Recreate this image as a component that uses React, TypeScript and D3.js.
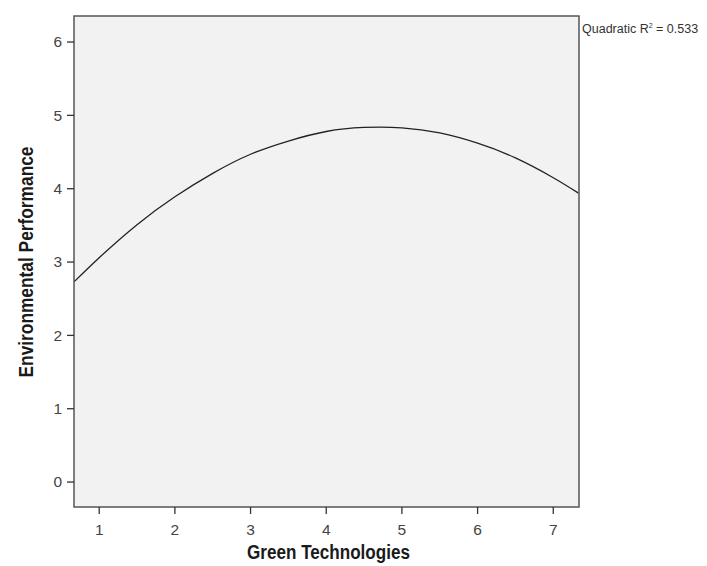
import React from "react";
import * as d3 from "d3";

const xValues = [0.667, 1, 1.5, 2, 2.5, 3, 3.5, 4, 4.5, 5, 5.5, 6, 6.5, 7, 7.333];
const yValues = [2.73, 3.06, 3.51, 3.89, 4.21, 4.47, 4.65, 4.78, 4.835, 4.83, 4.76, 4.62, 4.42, 4.15, 3.94];
const xTicks = [1, 2, 3, 4, 5, 6, 7];
const yTicks = [0, 1, 2, 3, 4, 5, 6];
const xTitle = "Green Technologies";
const yTitle = "Environmental Performance";
const fitLabel = "Quadratic R";
const fitValue = " = 0.533";

export default function App() {
  const W = 707, H = 566;
  const left = 74, right = 579, top = 16, bottom = 507;
  const x = d3.scaleLinear().domain([0.667, 7.34]).range([left, right]);
  const y = d3.scaleLinear().domain([-0.34, 6.355]).range([bottom, top]);
  const line = d3.line<number>()
    .x((_, i) => x(xValues[i]))
    .y((d) => y(d))
    .curve(d3.curveNatural);
  const tickFont = "'Liberation Sans', Arial, sans-serif";
  const titleFont = "'Liberation Sans Narrow', 'Arial Narrow', 'Liberation Sans', sans-serif";
  return (
    <svg width={W} height={H} style={{ position: "absolute", left: 0, top: 0, background: "#fff" }}>
      <defs>
        <clipPath id="plot">
          <rect x={left} y={top} width={right - left} height={bottom - top} />
        </clipPath>
      </defs>
      <rect x={left} y={top} width={right - left} height={bottom - top} fill="#f2f2f2" />
      <path d={line(yValues) || ""} fill="none" stroke="#222" strokeWidth={1.3} clipPath="url(#plot)" />
      <rect x={left} y={top} width={right - left} height={bottom - top} fill="none" stroke="#555" strokeWidth={1.5} />
      {yTicks.map((t) => (
        <g key={"y" + t}>
          <line x1={left - 7} x2={left} y1={y(t)} y2={y(t)} stroke="#333" strokeWidth={1.3} />
          <text x={left - 12} y={y(t)} dy="0.35em" textAnchor="end" fontSize={15.5} fill="#444" fontFamily={tickFont}>{t}</text>
        </g>
      ))}
      {xTicks.map((t) => (
        <g key={"x" + t}>
          <line x1={x(t)} x2={x(t)} y1={bottom} y2={bottom + 7} stroke="#333" strokeWidth={1.3} />
          <text x={x(t)} y={bottom + 28} textAnchor="middle" fontSize={15.5} fill="#444" fontFamily={tickFont}>{t}</text>
        </g>
      ))}
      <text x={328.5} y={559} textAnchor="middle" fontSize={19.5} fontWeight="bold" fill="#1a1a1a" fontFamily={titleFont}
        textLength={163} lengthAdjust="spacingAndGlyphs">{xTitle}</text>
      <text transform={`translate(33, 262) rotate(-90)`} textAnchor="middle" fontSize={19.5} fontWeight="bold" fill="#1a1a1a" fontFamily={titleFont}
        textLength={231} lengthAdjust="spacingAndGlyphs">{yTitle}</text>
      <text x={582} y={33} fontSize={12.5} fill="#333" fontFamily={tickFont}>
        {fitLabel}
        <tspan fontSize={7} dy={-5}>2</tspan>
        <tspan dy={5}>{fitValue}</tspan>
      </text>
    </svg>
  );
}
